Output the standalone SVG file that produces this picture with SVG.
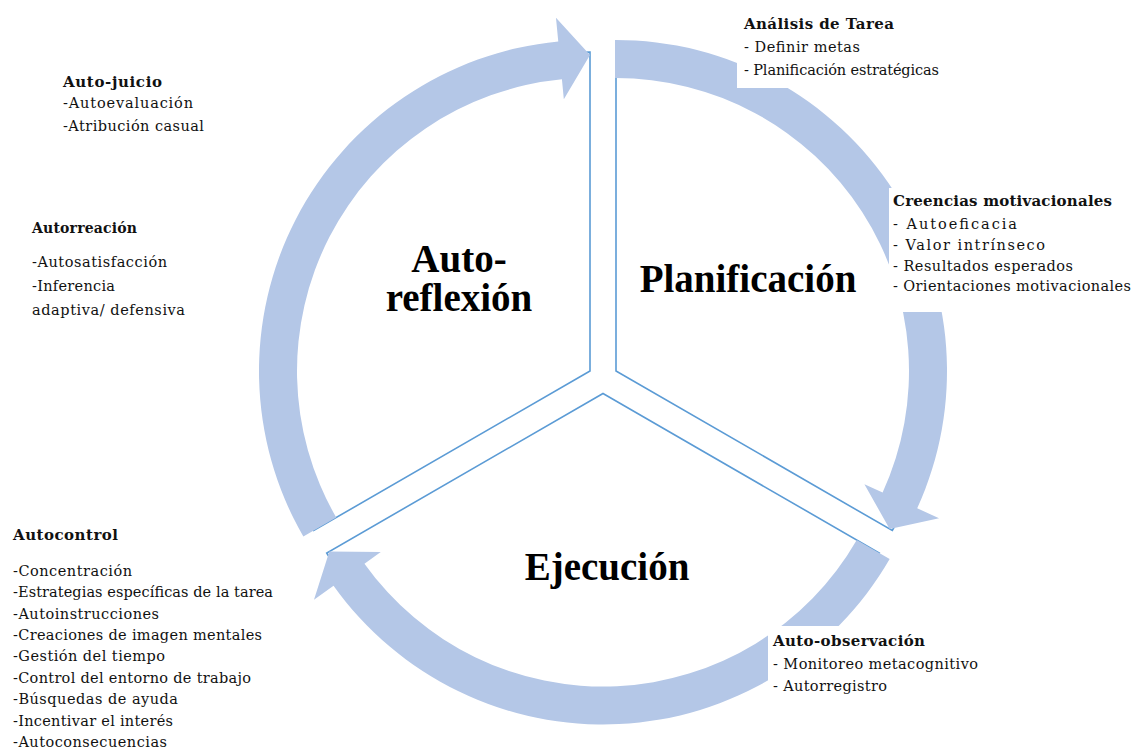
<svg xmlns="http://www.w3.org/2000/svg" width="1133" height="752" viewBox="0 0 1133 752">
<defs>
<style>
.pie{fill:none;stroke:#5B9BD5;stroke-width:1.6;stroke-linejoin:miter}
.band{fill:#B4C7E7;stroke:none}
.box{fill:#ffffff;stroke:none}
.big{font-family:"Liberation Serif",serif;font-weight:bold;font-size:39px;fill:#000;text-anchor:middle}
.h{font-family:"DejaVu Serif",serif;font-weight:bold;font-size:15px;fill:#111}
.t{font-family:"DejaVu Serif",serif;font-size:14.5px;fill:#111}
</style>
</defs>
<rect width="1133" height="752" fill="#ffffff"/>
<g id="connectors">
<path class="pie" d="M590,371 L313.74,530.5 A319,319 0 0 1 590,52 Z"/>
<path class="pie" d="M616,371 L616,52 A319,319 0 0 1 892.26,530.5 Z"/>
<path class="pie" d="M603,393.5 L879.26,553 A319,319 0 0 1 326.74,553 Z"/>
<path class="band" d="M303.34,536.5 A331,331 0 0 1 558.28,41.52 L555.97,17.63 L590,55 L563.83,99.26 L561.92,79.35 A293,293 0 0 0 336.25,517.5 Z"/>
<path class="band" d="M615,40 A331,331 0 0 1 917.20,508.26 L939.04,518.22 L889.67,529 L864.42,484.21 L882.62,492.51 A293,293 0 0 0 615,78 Z"/>
<path class="band" d="M889.66,559 A331,331 0 0 1 333.53,585.71 L313.99,599.65 L329.34,551.5 L380.75,552.03 L364.46,563.65 A293,293 0 0 0 856.75,540 Z"/>
</g>
<g id="autoreflexion">
<text class="big" x="459" y="272">Auto-</text>
<text class="big" x="459" y="311">reflexión</text>
</g>
<g id="planificacion">
<text class="big" x="748" y="292">Planificación</text>
</g>
<g id="ejecucion">
<text class="big" x="607" y="580">Ejecución</text>
</g>
<g id="analisis">
<rect class="box" x="737" y="4" width="220" height="84"/>
<text class="h" x="744" y="29" textLength="150">Análisis de Tarea</text>
<text class="t" x="744" y="52" textLength="116">- Definir metas</text>
<text class="t" x="744" y="75" textLength="195">- Planificación estratégicas</text>
</g>
<g id="creencias">
<rect class="box" x="889" y="188" width="244" height="124"/>
<text class="h" x="893" y="206" textLength="219">Creencias motivacionales</text>
<text class="t" x="893" y="229" textLength="124">- Autoeficacia</text>
<text class="t" x="893" y="250" textLength="152">- Valor intrínseco</text>
<text class="t" x="893" y="271" textLength="180">- Resultados esperados</text>
<text class="t" x="893" y="291" textLength="238">- Orientaciones motivacionales</text>
</g>
<g id="autoobservacion">
<rect class="box" x="768" y="626" width="222" height="80"/>
<text class="h" x="773" y="646" textLength="152">Auto-observación</text>
<text class="t" x="773" y="669" textLength="205">- Monitoreo metacognitivo</text>
<text class="t" x="773" y="691" textLength="114">- Autorregistro</text>
</g>
<g id="autocontrol">
<text class="h" x="13" y="540" textLength="105">Autocontrol</text>
<text class="t" x="13" y="576" textLength="119">-Concentración</text>
<text class="t" x="13" y="597" textLength="260">-Estrategias específicas de la tarea</text>
<text class="t" x="13" y="619" textLength="146">-Autoinstrucciones</text>
<text class="t" x="13" y="640" textLength="249">-Creaciones de imagen mentales</text>
<text class="t" x="13" y="661" textLength="152">-Gestión del tiempo</text>
<text class="t" x="13" y="683" textLength="238">-Control del entorno de trabajo</text>
<text class="t" x="13" y="704" textLength="165">-Búsquedas de ayuda</text>
<text class="t" x="13" y="726" textLength="160">-Incentivar el interés</text>
<text class="t" x="13" y="747" textLength="154">-Autoconsecuencias</text>
</g>
<g id="autojuicio">
<text class="h" x="63" y="87" textLength="99">Auto-juicio</text>
<text class="t" x="63" y="108" textLength="130">-Autoevaluación</text>
<text class="t" x="63" y="131" textLength="141">-Atribución casual</text>
</g>
<g id="autorreaccion">
<text class="h" x="32" y="233" textLength="105" style="font-size:14px">Autorreación</text>
<text class="t" x="32" y="267" textLength="135">-Autosatisfacción</text>
<text class="t" x="32" y="291" textLength="83">-Inferencia</text>
<text class="t" x="32" y="315" textLength="153">adaptiva/ defensiva</text>
</g>
</svg>
